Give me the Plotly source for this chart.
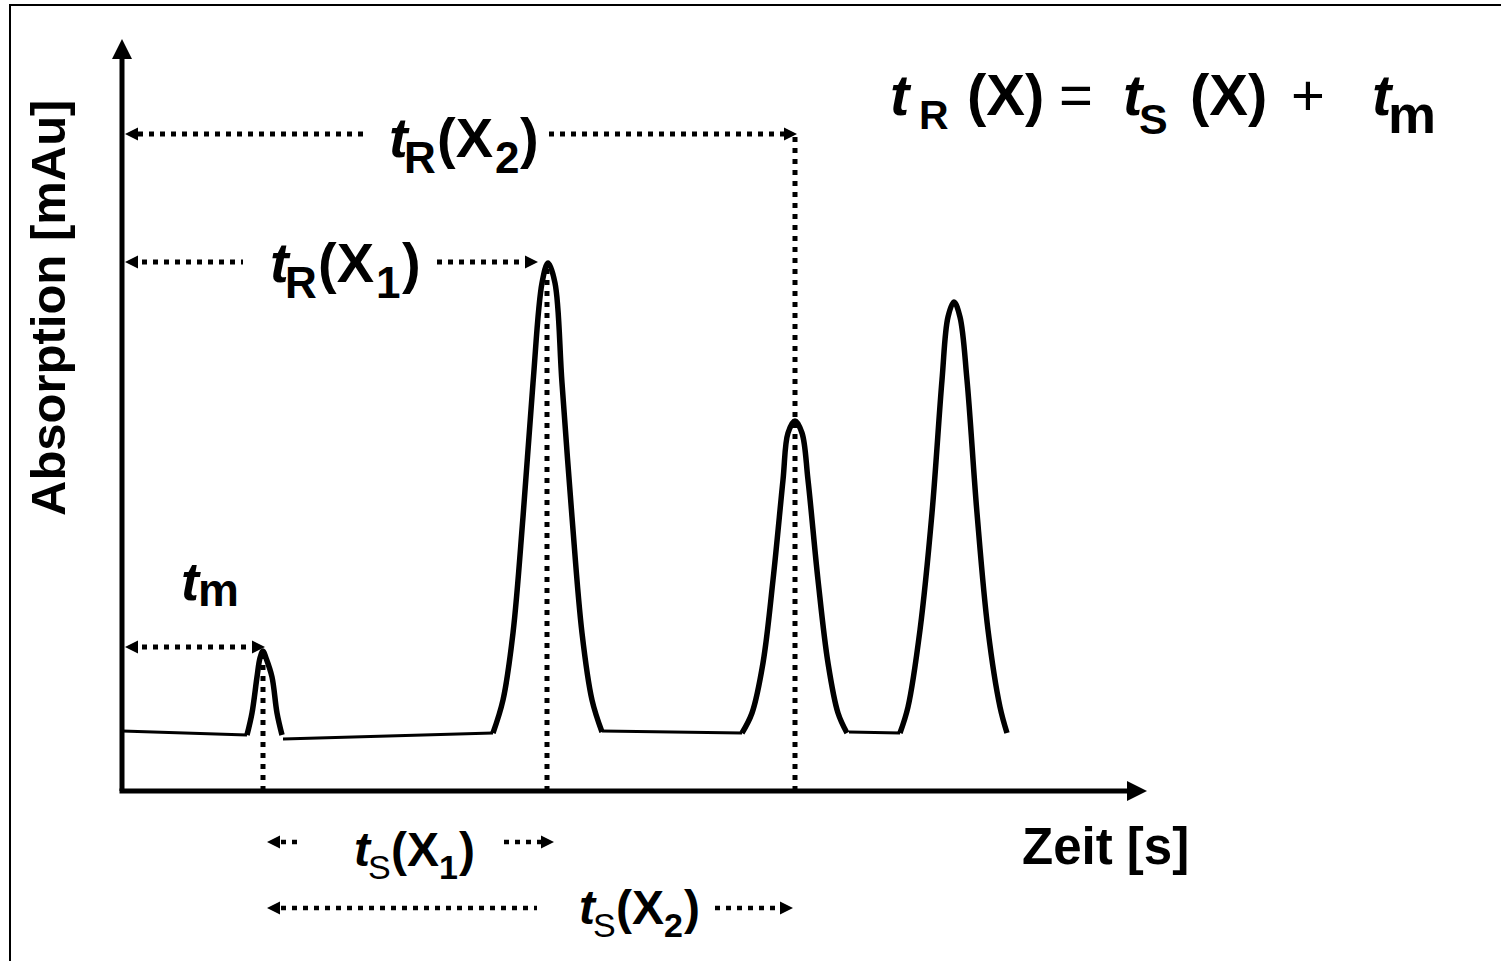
import plotly.graph_objects as go

W, H = 1501, 961
FONT = "Liberation Sans, Arial, sans-serif"

# ---------------- data (time in arbitrary units, absorption in arbitrary units) -------------
base1_t = [0.00, 1.25]
base1_a = [0.60, 0.56]
tm_peak_t = [1.25, 1.30, 1.35, 1.38, 1.41, 1.44, 1.50, 1.55, 1.60]
tm_peak_a = [0.56, 0.78, 1.14, 1.33, 1.40, 1.33, 1.14, 0.78, 0.56]
base2_t = [1.61, 3.71]
base2_a = [0.52, 0.58]
x1_peak_t = [3.71, 3.81, 3.91, 4.01, 4.11, 4.20, 4.26, 4.33, 4.40, 4.50, 4.60, 4.70, 4.80]
x1_peak_a = [0.58, 0.91, 1.58, 2.74, 4.08, 5.08, 5.28, 5.08, 4.08, 2.74, 1.58, 0.91, 0.59]
base3_t = [4.80, 6.20]
base3_a = [0.60, 0.58]
x2_peak_t = [6.20, 6.30, 6.41, 6.51, 6.61, 6.66, 6.73, 6.80, 6.86, 6.96, 7.06, 7.16, 7.25]
x2_peak_a = [0.58, 0.78, 1.28, 2.11, 3.11, 3.58, 3.70, 3.58, 3.11, 2.11, 1.28, 0.78, 0.58]
base4_t = [7.27, 7.78]
base4_a = [0.59, 0.58]
x3_peak_t = [7.78, 7.86, 7.98, 8.10, 8.20, 8.26, 8.32, 8.38, 8.45, 8.55, 8.66, 8.78, 8.85]
x3_peak_a = [0.58, 0.84, 1.61, 2.78, 4.11, 4.74, 4.89, 4.74, 4.11, 2.78, 1.61, 0.84, 0.58]

# characteristic times and their peak heights
t_m, t_r1, t_r2 = 1.41, 4.25, 6.73
h_m, h_r1 = 1.41, 5.26

# levels of the dimension arrows
row_tr2, row_tr1, row_tm, row_ts1, row_ts2 = 6.57, 5.29, 1.44, -0.51, -1.17

# axis extents
x_axis_end, y_axis_end = 10.25, 7.52

X_RANGE = [-1.22, 13.79]
Y_RANGE = [-1.70, 7.91]

fig = go.Figure()

# ---------------- chromatogram ----------------
for tt, aa in [(base1_t, base1_a), (base2_t, base2_a), (base3_t, base3_a), (base4_t, base4_a)]:
    fig.add_trace(go.Scatter(x=tt, y=aa, mode="lines", line=dict(color="black", width=3),
                             hoverinfo="skip"))
for tt, aa in [(tm_peak_t, tm_peak_a), (x1_peak_t, x1_peak_a), (x2_peak_t, x2_peak_a),
               (x3_peak_t, x3_peak_a)]:
    fig.add_trace(go.Scatter(x=tt, y=aa, mode="lines",
                             line=dict(color="black", width=5.5, shape="spline", smoothing=1.0),
                             hoverinfo="skip"))

shapes = []
# axes
shapes.append(dict(type="line", xref="x", yref="y", x0=-0.025, y0=0, x1=x_axis_end - 0.12, y1=0,
                   line=dict(color="black", width=5)))
shapes.append(dict(type="line", xref="x", yref="y", x0=0, y0=0, x1=0, y1=y_axis_end - 0.12,
                   line=dict(color="black", width=5)))
fig.add_trace(go.Scatter(x=[x_axis_end], y=[0], mode="markers",
                         marker=dict(symbol="arrow-right", size=20, color="black", line=dict(width=0)),
                         hoverinfo="skip"))
fig.add_trace(go.Scatter(x=[0], y=[y_axis_end], mode="markers",
                         marker=dict(symbol="arrow-up", size=20, color="black", line=dict(width=0)),
                         hoverinfo="skip"))

DOT = "5px,6px"
def dotted(x0, y0, x1, y1, w=5):
    shapes.append(dict(type="line", xref="x", yref="y", x0=x0, y0=y0, x1=x1, y1=y1,
                       line=dict(color="black", width=w, dash=DOT)))

# vertical dotted lines at retention times
dotted(t_m, 0, t_m, h_m)
dotted(t_r1, 0, t_r1, h_r1)
dotted(t_r2, 0, t_r2, row_tr2)

# horizontal dotted dimension lines
dotted(0.16, row_tr2, 2.41, row_tr2)
dotted(4.27, row_tr2, t_r2 - 0.11, row_tr2)
dotted(0.20, row_tr1, 1.21, row_tr1)
dotted(3.15, row_tr1, 4.03, row_tr1)
dotted(0.20, row_tm, 1.30, row_tm)
dotted(1.59, row_ts1, 1.80, row_ts1, 4.5)
dotted(3.82, row_ts1, 4.19, row_ts1, 4.5)
dotted(1.59, row_ts2, 4.15, row_ts2, 4.5)
dotted(5.93, row_ts2, 6.58, row_ts2, 4.5)

left_tips_x = [0.03, 0.03, 0.03, 1.45, 1.45]
left_tips_y = [row_tr2, row_tr1, row_tm, row_ts1, row_ts2]
right_tips_x = [t_r2 + 0.02, 4.16, 1.43, 4.32, 6.71]
right_tips_y = [row_tr2, row_tr1, row_tm, row_ts1, row_ts2]
fig.add_trace(go.Scatter(x=left_tips_x, y=left_tips_y, mode="markers",
                         marker=dict(symbol="arrow-left", size=13, color="black", line=dict(width=0)),
                         hoverinfo="skip"))
fig.add_trace(go.Scatter(x=right_tips_x, y=right_tips_y, mode="markers",
                         marker=dict(symbol="arrow-right", size=13, color="black", line=dict(width=0)),
                         hoverinfo="skip"))

# outer frame
shapes.append(dict(type="rect", xref="paper", yref="paper", x0=10 / W, y0=-0.02, x1=1.02, y1=1 - 5 / H,
                   line=dict(color="black", width=2)))

annotations = []
def put(text, left_px, base_px, size, bold=True, italic=False):
    s = text
    if italic:
        s = f"<i>{s}</i>"
    if bold:
        s = f"<b>{s}</b>"
    annotations.append(dict(x=left_px / W, y=1 - (base_px - 0.3465 * size) / H, xref="paper", yref="paper",
                            text=s, showarrow=False, xanchor="left", yanchor="middle",
                            font=dict(family=FONT, size=size, color="black")))

# formula
put("t", 888, 115, 58, italic=True)
put("R", 917, 129, 41)
put("(X)", 965, 115, 58)
put("=", 1057, 115, 58, bold=False)
put("t", 1121, 115, 58, italic=True)
put("S", 1137, 134, 43)
put("(X)", 1188, 115, 58)
put("+", 1289, 115, 58, bold=False)
put("t", 1370, 115, 58, italic=True)
put("m", 1386, 133, 54)

# t_R(X2)
put("t", 387, 157, 56, italic=True)
put("R", 402, 173, 44)
put("(X", 435, 157, 56)
put("2", 493, 173, 44)
put(")", 518, 157, 56)
# t_R(X1)
put("t", 268, 282, 56, italic=True)
put("R", 283, 298, 44)
put("(X", 316, 282, 56)
put("1", 374, 298, 44)
put(")", 400, 282, 56)
# t_m
put("t", 179, 600, 54, italic=True)
put("m", 196, 606, 46)
# t_S(X1)
put("t", 352, 866, 48, italic=True)
put("S", 366, 879, 34, bold=False)
put("(X", 389, 866, 48)
put("1", 437, 879, 34)
put(")", 457, 866, 48)
# t_S(X2)
put("t", 577, 924, 48, italic=True)
put("S", 591, 937, 34, bold=False)
put("(X", 614, 924, 48)
put("2", 662, 937, 34)
put(")", 682, 924, 48)

# axis titles
put("Zeit [s]", 1020, 864, 51)
annotations.append(dict(x=48 / W, y=1 - 308 / H, xref="paper", yref="paper",
                        text="<b>Absorption [mAu]</b>", showarrow=False, textangle=-90,
                        xanchor="center", yanchor="middle",
                        font=dict(family=FONT, size=49, color="black")))

fig.update_layout(
    width=W, height=H, autosize=False,
    margin=dict(l=0, r=0, t=0, b=0, pad=0),
    paper_bgcolor="white", plot_bgcolor="white",
    showlegend=False,
    xaxis=dict(range=X_RANGE, visible=False, fixedrange=True),
    yaxis=dict(range=Y_RANGE, visible=False, fixedrange=True),
    shapes=shapes, annotations=annotations,
)

fig.write_html("out.html", config={"displayModeBar": False},
               post_script="document.body.style.margin='0px';document.body.style.overflow='hidden';")
